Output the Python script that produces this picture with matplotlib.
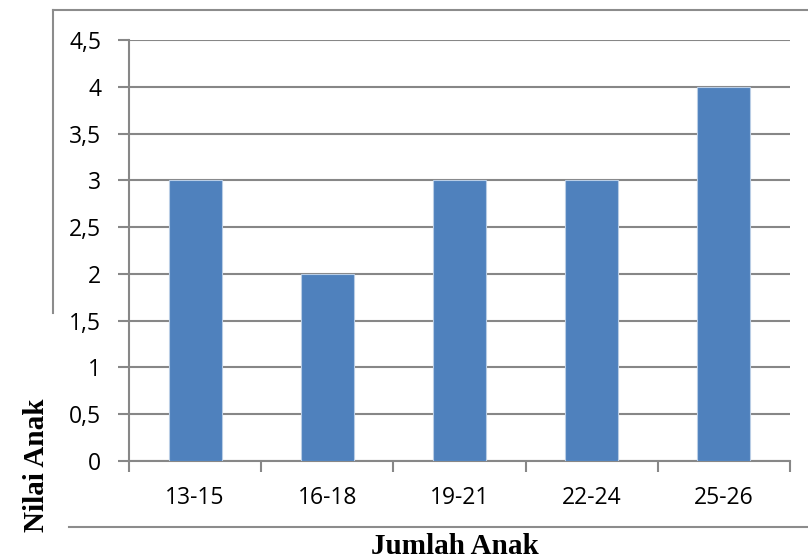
import matplotlib
matplotlib.use("Agg")
import matplotlib.pyplot as plt
from matplotlib.lines import Line2D
import numpy as np

categories = ["13-15", "16-18", "19-21", "22-24", "25-26"]
values = [3, 2, 3, 3, 4]
yticks = [0, 0.5, 1, 1.5, 2, 2.5, 3, 3.5, 4, 4.5]
ytick_labels = ["0", "0,5", "1", "1,5", "2", "2,5", "3", "3,5", "4", "4,5"]

W, H = 808, 560
fig = plt.figure(figsize=(W / 100, H / 100), dpi=100)
ax = fig.add_axes([129 / W, 1 - 461 / H, (790 - 129) / W, (461 - 40) / H])

x = np.arange(len(categories))
ax.bar(x, values, width=0.4, color="#4F81BD", edgecolor="#B9CDE5", linewidth=0.8, zorder=3)

ax.set_xlim(-0.5, len(categories) - 0.5)
ax.set_ylim(0, 4.5)
ax.set_yticks(yticks)
ax.set_yticklabels(ytick_labels)
ax.yaxis.grid(True, color="#878787", linewidth=1.5, zorder=0)
ax.set_axisbelow(True)

ax.set_xticks(x)
ax.set_xticklabels(categories)
ax.set_xticks(np.arange(-0.5, len(categories), 1.0), minor=True)
ax.tick_params(axis="x", which="major", length=0, pad=18)
ax.tick_params(axis="x", which="minor", length=8, width=1.5, color="#878787", direction="out")
ax.tick_params(axis="y", length=8, width=1.5, color="#878787", direction="out", pad=12)

for lab in ax.get_xticklabels() + ax.get_yticklabels():
    lab.set_fontfamily("Open Sans")
    lab.set_fontsize(16.5)
    lab.set_color("black")

for s in ["top", "right"]:
    ax.spines[s].set_visible(False)
for s in ["left", "bottom"]:
    ax.spines[s].set_color("#878787")
    ax.spines[s].set_linewidth(1.5)

# frame lines
def fl(x0, y0, x1, y1):
    fig.add_artist(Line2D([x0 / W, x1 / W], [1 - y0 / H, 1 - y1 / H], color="#8C8C8C",
                          linewidth=1.5, transform=fig.transFigure))

fl(53, 10, 808, 10)
fl(53, 10, 53, 313)
fl(69, 527, 808, 527)

fig.text(455 / W, 1 - 554 / H, "Jumlah Anak", ha="center", va="baseline",
         fontfamily="Liberation Serif", fontweight="bold", fontsize=21)
fig.text(36 / W, 1 - 465 / H, "Nilai Anak", ha="center", va="center", rotation=90,
         fontfamily="Liberation Serif", fontweight="bold", fontsize=21)

fig.savefig("out.png", dpi=100)
